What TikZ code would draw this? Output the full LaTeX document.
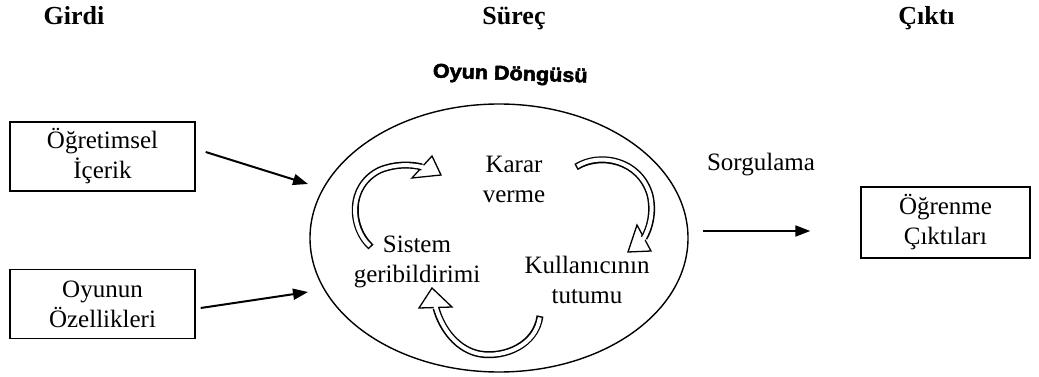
\documentclass[tikz,border=0pt]{standalone}
\usepackage{fontspec}
\setmainfont{Liberation Serif}
\newfontfamily\wordart[FakeBold=2.5]{Liberation Sans}
\usetikzlibrary{arrows.meta,shapes.geometric}

\tikzset{
  label/.style={font=\fontsize{25}{30}\selectfont, align=center, inner sep=0pt},
  heading/.style={font=\fontsize{26}{30}\selectfont\bfseries, inner sep=0pt, anchor=base},
  box/.style={draw, line width=1.4pt, label, minimum width=185pt, minimum height=69pt},
  conn/.style={line width=2pt, -{Triangle[length=15pt,width=11pt]}},
  bandout/.style={line width=7pt, line cap=butt},
  bandin/.style={white, line width=4pt, line cap=butt, shorten <=1.5pt, shorten >=-2pt},
  head/.style={draw, fill=white, line width=1.3pt, line join=miter},
}

\begin{document}
\begin{tikzpicture}[x=1pt, y=-1pt]
\useasboundingbox (0,0) rectangle (1039,377);

% column headings
\node[heading] (hin)   at (74,25)    {Girdi};
\node[heading] (hproc) at (514,25)   {Süreç};
\node[heading] (hout)  at (926.5,25) {Çıktı};

% the game loop
\node[inner sep=0pt, anchor=base, xscale=1.08, rotate=-2] (title) at (510,80)
  {\fontsize{20}{22}\selectfont\wordart\bfseries Oyun Döngüsü};
\node[draw, ellipse, line width=1.4pt, minimum width=378pt, minimum height=268pt, inner sep=0pt] (loop) at (499,238) {};

\node[label] (karar)  at (514,179)   {Karar\\verme};
\node[label] (sistem) at (417,262)   {Sistem\\geribildirimi};
\node[label] (kull)   at (587,279.5) {Kullanıcının\\tutumu};

% curved arrows of the cycle
\draw[head] (432,156) -- (441,175) -- (412,178) -- cycle;
\draw[bandout] (371,247) .. controls (350,228) and (347,186) .. (380,170) .. controls (395,164) and (410,164) .. (422,167);
\draw[bandin]  (371,247) .. controls (350,228) and (347,186) .. (380,170) .. controls (395,164) and (410,164) .. (422,167);

\draw[head] (637,225) -- (651,251) -- (628,252) -- cycle;
\draw[bandout] (576,167) .. controls (600,152) and (640,160) .. (650,195) .. controls (654,212) and (650,228) .. (644,238);
\draw[bandin]  (576,167) .. controls (600,152) and (640,160) .. (650,195) .. controls (654,212) and (650,228) .. (644,238);

\draw[head] (432,288) -- (452,307) -- (419,308) -- cycle;
\draw[bandout] (540,316) .. controls (536,345) and (505,358) .. (480,354) .. controls (458,350) and (442,330) .. (436,308);
\draw[bandin]  (540,316) .. controls (536,345) and (505,358) .. (480,354) .. controls (458,350) and (442,330) .. (436,308);

% inputs
\node[box] (in1) at (102.5,156.5) {Öğretimsel\\İçerik};
\node[box] (in2) at (102.5,304)   {Oyunun\\Özellikleri};

% output
\node[box, minimum width=169pt, minimum height=71pt] (out) at (945.5,222.5) {Öğrenme\\Çıktıları};
\node[label, anchor=base] (sorg) at (761,171) {Sorgulama};

% connectors
\coordinate (in1end) at (308,184);
\coordinate (in2end) at (308,292);
\coordinate (outstart) at (703,231);
\draw[conn] ([shift={(10,-4.5)}]in1.east) -- (in1end);
\draw[conn] ([shift={(5,4)}]in2.east) -- (in2end);
\draw[conn] (outstart) -- ([shift={(-50,8.5)}]out.west);
\end{tikzpicture}
\end{document}
